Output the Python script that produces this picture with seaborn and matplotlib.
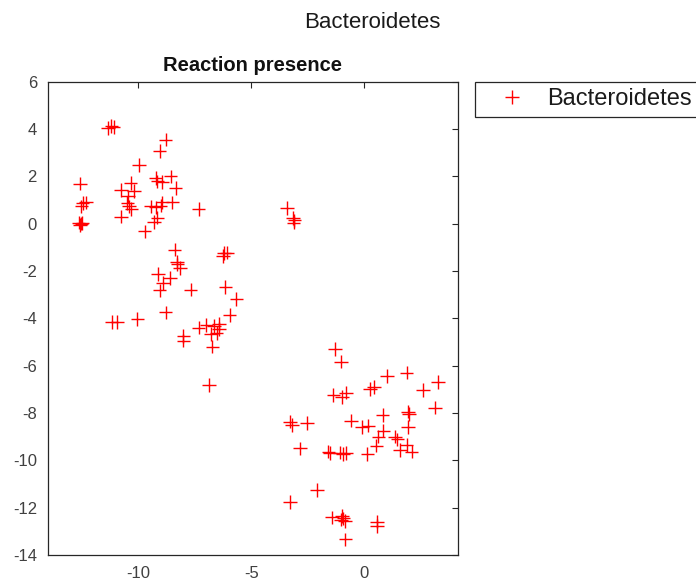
import matplotlib
matplotlib.use("Agg")
import matplotlib.pyplot as plt
import seaborn as sns
import pandas as pd

# Embedding coordinates of the Bacteroidetes genomes (reaction presence)
x_vals = [
    -11.35, -11.20, -11.10, -8.80, -9.06, -9.97, -12.58, -10.34, -10.78, -10.19,
    -9.24, -9.16, -8.57, -8.94, -8.35, -12.47, -12.33, -12.52,
    -12.65, -12.52, -12.58, -12.48, -10.49, -10.41, -10.31, -10.46, -10.78,
    -9.46, -9.24, -9.02, -8.94, -8.50, -9.16, -9.31, -9.72, -7.33,
    -8.40, -8.28, -8.16, -8.27, -6.22, -6.07, -6.25, -9.14, -8.61, -8.90,
    -9.06, -7.69, -6.15, -5.66, -8.80, -5.96, -11.18, -10.93, -10.04,
    -8.01, -8.01, -7.33, -6.99, -6.66, -6.44, -6.44, -6.54, -6.78, -6.73, -6.88,
    -3.42, -3.16, -3.10, -3.13,
    -1.29, -1.04, 0.99, 1.87, 3.27, 2.60, 0.25, 0.43, -1.37, -1.00, -0.81,
    3.12, 1.94, 1.97, 0.81, -3.28, -3.20, -2.54, -0.60, -0.11, 0.18, 1.94,
    0.84, 0.62, 1.35, 1.46, 1.87, 0.53,
    -2.84, -1.59, -1.51, -1.10, -0.95, -0.81, 0.13, 1.57, 2.09,
    -2.10, -3.28, -1.44, -1.00, -0.93, -0.85, -1.04, 0.55, 0.55, -0.84,
]
y_vals = [
    4.05, 4.13, 4.08, 3.55, 3.08, 2.49, 1.69, 1.72, 1.43, 1.39,
    1.93, 1.79, 2.00, 1.76, 1.50, 0.87, 0.90, 0.73,
    0.05, 0.00, -0.05, 0.03, 0.87, 0.73, 0.63, 1.15, 0.30,
    0.73, 0.69, 0.76, 0.90, 0.90, 0.26, 0.07, -0.33, 0.62,
    -1.10, -1.60, -1.88, -1.72, -1.24, -1.22, -1.36, -2.12, -2.30, -2.51,
    -2.82, -2.79, -2.68, -3.19, -3.75, -3.85, -4.16, -4.16, -4.02,
    -4.74, -4.94, -4.39, -4.27, -4.32, -4.25, -4.46, -4.63, -4.66, -5.19, -6.81,
    0.66, 0.24, 0.14, 0.05,
    -5.29, -5.83, -6.43, -6.29, -6.70, -7.02, -6.99, -6.91, -7.23, -7.33, -7.14,
    -7.77, -7.94, -8.05, -8.08, -8.36, -8.50, -8.43, -8.32, -8.60, -8.53, -8.60,
    -8.74, -9.00, -9.00, -9.11, -9.35, -9.38,
    -9.49, -9.63, -9.70, -9.67, -9.73, -9.69, -9.73, -9.56, -9.63,
    -11.25, -11.75, -12.41, -12.35, -12.45, -12.56, -12.50, -12.59, -12.77, -13.34,
]
group_name = "Bacteroidetes"
x_ticks = [-10, -5, 0]
y_ticks = list(range(-14, 7, 2))

df = pd.DataFrame({"x": x_vals, "y": y_vals, "group": [group_name] * len(x_vals)})

sns.set_theme(style="white")
plt.rcParams["font.family"] = ["Liberation Sans", "DejaVu Sans"]
plt.rcParams["axes.unicode_minus"] = False

W, H = 696, 585
fig = plt.figure(figsize=(W / 100, H / 100), dpi=100)
ax = fig.add_axes([48 / W, 1 - 555 / H, (457.7 - 48) / W, (555 - 81.7) / H])

sns.scatterplot(data=df, x="x", y="y", hue="group", palette={group_name: "red"},
                marker="+", s=95, linewidth=1.0, ax=ax, legend=False)

ax.set_xlim(-14, 4.13)
ax.set_ylim(-14, 6)
ax.set_xticks(x_ticks)
ax.set_yticks(y_ticks)
ax.set_xlabel("")
ax.set_ylabel("")
ax.tick_params(direction="in", top=True, right=True, length=4, width=0.8,
               color="#262626", labelsize=12, labelcolor="#404040", pad=8)
for sp in ax.spines.values():
    sp.set_color("#262626")
    sp.set_linewidth(0.9)

ax.set_title("Reaction presence", fontsize=14.5, fontweight="bold", pad=8, color="#111111")
fig.text(372 / W, 1 - 22 / H, group_name, ha="center", va="center", fontsize=16, color="#1a1a1a")

handle = plt.Line2D([], [], linestyle="none", marker="+", color="red",
                    markersize=9.5, markeredgewidth=1.0)
leg = ax.legend([handle], [group_name], loc="upper left",
                bbox_to_anchor=(475 / W, 1 - 81.7 / H), bbox_transform=fig.transFigure,
                borderaxespad=0, fancybox=False, framealpha=1, fontsize=17,
                handlelength=2.57, handletextpad=0.2, borderpad=0.28)
leg.get_frame().set_edgecolor("#262626")
leg.get_frame().set_linewidth(0.9)
for t in leg.get_texts():
    t.set_color("#1a1a1a")

fig.savefig("out.png", dpi=100)
